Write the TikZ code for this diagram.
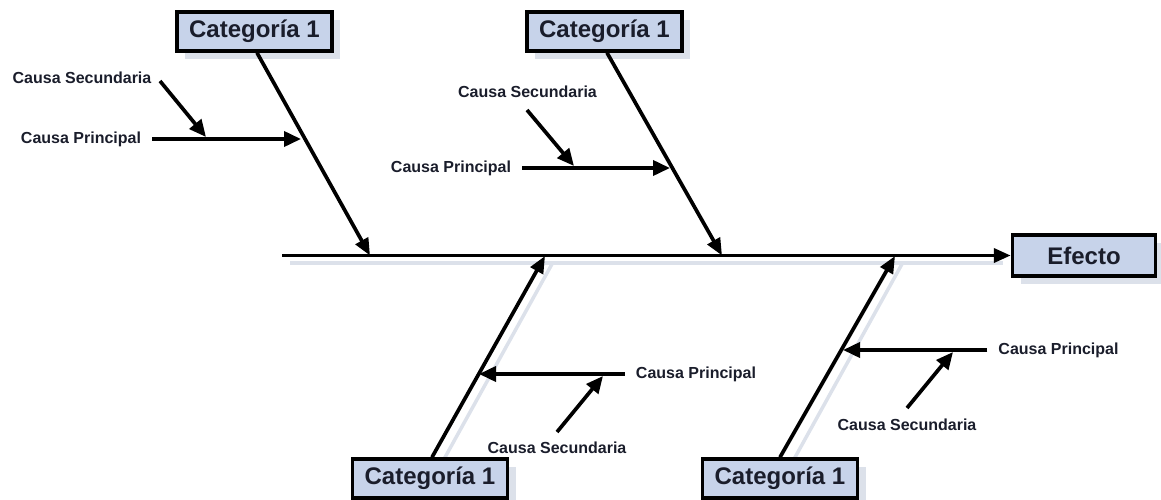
\documentclass[tikz,border=0pt]{standalone}
\usepackage{fontspec}
\setmainfont{Liberation Sans}
\usetikzlibrary{arrows.meta,shadows}
\definecolor{boxfill}{HTML}{C7D3EA}
\definecolor{shade}{HTML}{DCE1EA}
\definecolor{ink}{HTML}{1A1D2B}
\tikzset{
  catbox/.style={draw=black, line width=3.5pt, fill=boxfill, text=ink,
    font=\fontsize{24}{28}\selectfont\bfseries,
    minimum width=155pt, minimum height=39pt, inner sep=0pt,
    drop shadow={shadow xshift=8pt, shadow yshift=-8pt, fill=shade, opacity=1}},
  cause/.style={font=\fontsize{16}{19}\selectfont\bfseries, text=ink,
    inner xsep=11pt, inner ysep=3pt},
  bone/.style={line width=3.7pt, -{Triangle[length=17pt,width=14pt]}},
  boneshadow/.style={line width=3.5pt, draw=shade},
  twig/.style={line width=3.7pt, -{Triangle[length=17pt,width=15pt]}},
}
\begin{document}
\begin{tikzpicture}[x=1pt,y=-1pt]
\useasboundingbox (0,0) rectangle (1161,500);

% free ends of the spine, bones and secondary arrows
\coordinate (spinestart) at (282,255.5);
\coordinate (t1) at (370,255.5);
\coordinate (t2) at (722,255.5);
\coordinate (t3) at (545,256);
\coordinate (t4) at (895,256);
\coordinate (pt1) at (301,139);
\coordinate (pt2) at (670,168);
\coordinate (pt3) at (479,374);
\coordinate (pt4) at (843,350);
\coordinate (s1a) at (160,81);  \coordinate (s1b) at (206,137);
\coordinate (s2a) at (527,110); \coordinate (s2b) at (574,166);
\coordinate (s3a) at (557,432); \coordinate (s3b) at (603,376);
\coordinate (s4a) at (907,408); \coordinate (s4b) at (953,352);

% soft shadows under the spine and the lower bones
\draw[boneshadow] (290,263) -- (1003,263);
\draw[boneshadow] (438,470) -- (552,264);
\draw[boneshadow] (788,470) -- (902,264);

% category boxes and effect box
\node[catbox] (c1) at (254.5,31.5) {Categoría 1};
\node[catbox] (c2) at (604.5,31.5) {Categoría 1};
\node[catbox] (c3) at (430,478.5) {Categoría 1};
\node[catbox] (c4) at (780,478.5) {Categoría 1};
\node[catbox, minimum width=143pt, minimum height=41pt] (e) at (1084,255.5) {Efecto};

% cause labels
\node[cause] (p1) at (81,139) {Causa Principal};
\node[cause] (s1) at (82,78) {Causa Secundaria};
\node[cause] (p2) at (451,168) {Causa Principal};
\node[cause] (s2) at (527.5,92) {Causa Secundaria};
\node[cause] (p3) at (696,374) {Causa Principal};
\node[cause] (s3) at (557,448) {Causa Secundaria};
\node[cause] (p4) at (1058.5,350) {Causa Principal};
\node[cause] (s4) at (907,425) {Causa Secundaria};

% spine
\draw[bone] (spinestart) -- (e.west);

% bones, leaving the boxes just right of their middle
\draw[bone] ([xshift=2.5pt]c1.south) -- (t1);
\draw[bone] ([xshift=2.5pt]c2.south) -- (t2);
\draw[bone] ([xshift=2pt]c3.north) -- (t3);
\draw[bone] (c4.north) -- (t4);

% main causes
\draw[twig] (p1.east) -- (pt1);
\draw[twig] (p2.east) -- (pt2);
\draw[twig] (p3.west) -- (pt3);
\draw[twig] (p4.west) -- (pt4);

% secondary causes
\draw[twig] (s1a) -- (s1b);
\draw[twig] (s2a) -- (s2b);
\draw[twig] (s3a) -- (s3b);
\draw[twig] (s4a) -- (s4b);
\end{tikzpicture}
\end{document}
